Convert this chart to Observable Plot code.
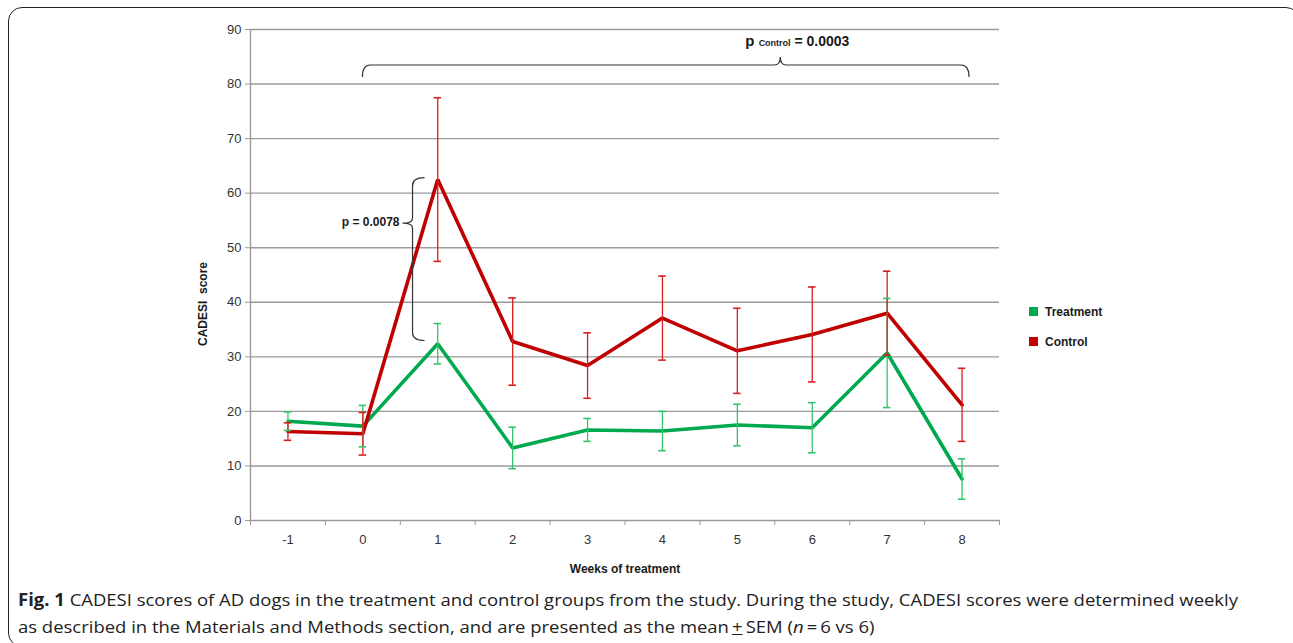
<!DOCTYPE html>
<html>
<head>
<meta charset="utf-8">
<script src="https://cdn.jsdelivr.net/npm/d3@7"></script>
<script src="https://cdn.jsdelivr.net/npm/@observablehq/plot@0.6"></script>
<style>
  html, body { margin: 0; padding: 0; background: #fff; }
  body { width: 1293px; height: 643px; overflow: hidden; position: relative; font-family: "Liberation Sans", Arial, sans-serif; }
  #frame { position: absolute; left: 8px; top: 7px; width: 1292px; height: 640px; border: 1.5px solid #222; border-radius: 14px; box-sizing: border-box; }
  #chart { position: absolute; left: 0; top: 0; }
  #legend { position: absolute; left: 1029px; top: 304px; font: bold 12px "Liberation Sans", Arial, sans-serif; color: #1a1a1a; }
  #legend .item { display: flex; align-items: center; height: 15px; margin-bottom: 15px; }
  #legend .sw { width: 9px; height: 9px; margin-right: 7px; }
  #caption { position: absolute; left: 18px; top: 586px; font-family: "Open Sans", "Noto Sans", sans-serif; font-size: 17px; color: #222; transform-origin: 0 0; white-space: nowrap; line-height: 27px; }
  #caption b { font-weight: 700; }
</style>
</head>
<body>
<div id="frame"></div>
<div id="chart"></div>
<div id="legend"></div>
<div id="caption"></div>
<script>
// ---- data ----
const weeks = [-1, 0, 1, 2, 3, 4, 5, 6, 7, 8];
const treatmentMean = [18.2, 17.3, 32.4, 13.3, 16.6, 16.4, 17.5, 17.0, 30.7, 7.6];
const treatmentSEM  = [1.7, 3.8, 3.7, 3.8, 2.1, 3.6, 3.8, 4.6, 10.0, 3.7];
const controlMean   = [16.3, 15.9, 62.5, 32.8, 28.4, 37.1, 31.1, 34.1, 38.0, 21.2];
const controlSEM    = [1.6, 3.9, 15.0, 8.0, 6.0, 7.7, 7.8, 8.7, 7.7, 6.7];
const groups = ["Treatment", "Control"];
const yTicks = [0, 10, 20, 30, 40, 50, 60, 70, 80, 90];
const xLabel = "Weeks of treatment";
const yLabel = "CADESI  score";
// annotation brackets (data units)
const controlBracket = {x1: 0, x2: 8.1, xMid: 5.58, y: 83.4, label: "= 0.0003", sub: "Control"};
const week1Bracket = {x: 0.67, y1: 62.75, y2: 32.9, yMid: 54.4, label: "p = 0.0078"};

const lineColor = {Treatment: "#00A94F", Control: "#C00000"};
const barColor = {Treatment: "#33C46A", Control: "#D81E1E"};

const rows = [];
groups.forEach(g => {
  const m = g === "Treatment" ? treatmentMean : controlMean;
  const s = g === "Treatment" ? treatmentSEM : controlSEM;
  weeks.forEach((w, i) => rows.push({week: w, group: g, mean: m[i], sem: s[i]}));
});

const bandEdges = d3.range(weeks.length + 1).map(i => weeks[0] - 0.5 + i);

function annotations(index, scales, values, dimensions, context) {
  const sx = scales.x, sy = scales.y;
  const g = d3.create("svg:g").attr("fill", "none").attr("stroke", "#333").attr("stroke-width", 1.2);
  // horizontal brace
  {
    const x1 = sx(controlBracket.x1), x2 = sx(controlBracket.x2), xm = sx(controlBracket.xMid), y = sy(controlBracket.y);
    const p = d3.path();
    p.moveTo(x1, y + 12);
    p.quadraticCurveTo(x1, y, x1 + 8, y);
    p.lineTo(xm - 6, y);
    p.quadraticCurveTo(xm, y, xm, y - 8);
    p.quadraticCurveTo(xm, y, xm + 6, y);
    p.lineTo(x2 - 8, y);
    p.quadraticCurveTo(x2, y, x2, y + 12);
    g.append("path").attr("d", p.toString());
    const t = g.append("text").attr("stroke", "none").attr("fill", "#1a1a1a")
      .attr("font-family", "Liberation Sans, Arial, sans-serif").attr("font-weight", "bold")
      .attr("text-anchor", "start")
      .attr("x", xm - 35).attr("y", y - 19);
    t.append("tspan").attr("font-size", 15).text("p ");
    t.append("tspan").attr("font-size", 9).text(controlBracket.sub);
    t.append("tspan").attr("font-size", 14).text(" " + controlBracket.label);
  }
  // vertical brace
  {
    const x = sx(week1Bracket.x), y1 = sy(week1Bracket.y1), y2 = sy(week1Bracket.y2), ym = sy(week1Bracket.yMid);
    const p = d3.path();
    p.moveTo(x + 12, y1);
    p.quadraticCurveTo(x, y1, x, y1 + 8);
    p.lineTo(x, ym - 5);
    p.quadraticCurveTo(x, ym, x - 10, ym);
    p.quadraticCurveTo(x, ym, x, ym + 5);
    p.lineTo(x, y2 - 8);
    p.quadraticCurveTo(x, y2, x + 12, y2);
    g.append("path").attr("d", p.toString());
    g.append("text").attr("stroke", "none").attr("fill", "#1a1a1a")
      .attr("font-family", "Liberation Sans, Arial, sans-serif").attr("font-weight", "bold")
      .attr("font-size", 12).attr("text-anchor", "end").attr("dominant-baseline", "middle")
      .attr("x", x - 13).attr("y", ym).text(week1Bracket.label);
  }
  return g.node();
}

const chart = Plot.plot({
  width: 1293,
  height: 590,
  marginLeft: 250,
  marginRight: 294,
  marginTop: 29,
  marginBottom: 70,
  style: {fontFamily: "Liberation Sans, Arial, sans-serif", fontSize: "13px", background: "transparent"},
  x: {type: "linear", domain: [bandEdges[0], bandEdges[bandEdges.length - 1]]},
  y: {domain: [0, 90]},
  marks: [
    Plot.gridY(yTicks.slice(1), {stroke: "#9a9a9a", strokeOpacity: 1, strokeWidth: 1.4}),
    Plot.ruleX([bandEdges[0]], {stroke: "#9a9a9a", strokeWidth: 1.4}),
    Plot.ruleY([0], {stroke: "#9a9a9a", strokeWidth: 1.4}),
    Plot.axisY({ticks: yTicks, tickSize: 5, tickPadding: 4, stroke: "#9a9a9a", fill: "#333", fontSize: 13, label: null}),
    Plot.axisX({ticks: bandEdges, tickSize: 5, stroke: "#9a9a9a", tickFormat: () => "", label: null}),
    Plot.axisX({ticks: weeks, tickSize: 0, tickPadding: 14, fill: "#333", fontSize: 13, label: null, tickFormat: d => String(d)}),
    Plot.text([yLabel], {frameAnchor: "left", rotate: -90, textAnchor: "middle", dx: -47, dy: 29, fontWeight: "bold", fontSize: 12, fill: "#1a1a1a"}),
    Plot.text([xLabel], {frameAnchor: "bottom", textAnchor: "middle", lineAnchor: "middle", dy: 49, fontWeight: "bold", fontSize: 12, fill: "#1a1a1a"}),
    Plot.line(rows, {x: "week", y: "mean", z: "group", stroke: d => lineColor[d.group], strokeWidth: 3.6, strokeLinejoin: "miter"}),
    Plot.ruleX(rows, {x: "week", y1: d => d.mean - d.sem, y2: d => d.mean + d.sem, stroke: d => barColor[d.group], strokeWidth: 1.3}),
    Plot.ruleY(rows, {y: d => d.mean + d.sem, x1: d => d.week - 0.05, x2: d => d.week + 0.05, stroke: d => barColor[d.group], strokeWidth: 1.6}),
    Plot.ruleY(rows, {y: d => d.mean - d.sem, x1: d => d.week - 0.05, x2: d => d.week + 0.05, stroke: d => barColor[d.group], strokeWidth: 1.6}),
    annotations
  ]
});
document.getElementById("chart").appendChild(chart);

// legend
const legend = d3.select("#legend");
groups.forEach(g => {
  const it = legend.append("div").attr("class", "item");
  it.append("div").attr("class", "sw").style("background", lineColor[g]);
  it.append("span").text(g);
});

// caption
const cap = document.getElementById("caption");
cap.innerHTML = '<div id="l1"><b>Fig. 1</b> CADESI scores of AD dogs in the treatment and control groups from the study. During the study, CADESI scores were determined weekly</div>' +
  '<div id="l2">as described in the Materials and Methods section, and are presented as the mean\u2009<u>+</u>\u2009SEM (<i>n</i>\u2009=\u20096 vs 6)</div>';
const w1 = document.getElementById("l1").getBoundingClientRect().width;
cap.style.transform = `scaleX(${1220 / w1})`;
</script>
</body>
</html>
